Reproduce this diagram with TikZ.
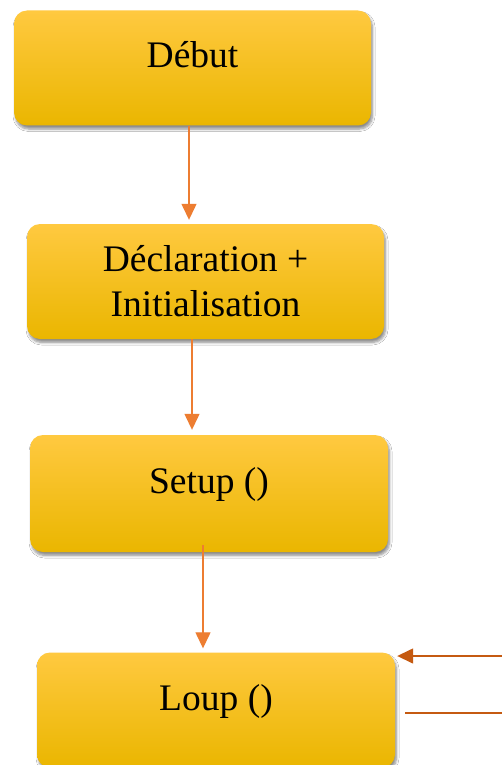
\documentclass[tikz,border=0pt]{standalone}
\usepackage{fontspec}
\setmainfont{Liberation Serif}
\usetikzlibrary{arrows.meta,shadows.blur}

\definecolor{boxtop}{RGB}{255,201,64}
\definecolor{boxmid}{RGB}{255,194,0}
\definecolor{boxbot}{RGB}{234,182,0}
\definecolor{flowline}{RGB}{237,125,49}
\definecolor{loopline}{RGB}{197,90,17}

\tikzset{
  stepbox/.style={rectangle, rounded corners=13pt,
    top color=boxtop, middle color=boxmid, bottom color=boxbot,
    minimum width=357pt, minimum height=115pt, inner sep=0pt,
    align=center, font=\fontsize{37.5}{45}\selectfont,
    blur shadow={shadow xshift=1.5pt, shadow yshift=-3.5pt,
      shadow blur radius=2.5pt, shadow blur steps=6, shadow opacity=45}},
  oneline/.style={text height=18pt, text depth=18pt},
  flow/.style={draw=flowline, line width=1.3pt,
    -{Triangle[width=15pt,length=16pt]}},
  loop/.style={draw=loopline, line width=1.5pt},
}

\begin{document}
\begin{tikzpicture}[x=1pt,y=-1pt]
  % page area
  \fill[white] (0,0) rectangle (502,765);
  \useasboundingbox (0,0) rectangle (502,765);

  % program steps
  \node[stepbox, oneline] (debut) at (192.5,68) {Début};
  \node[stepbox] (decl) at (205.5,281.5) {Déclaration +\\Initialisation};
  \node[stepbox, oneline, minimum width=358pt, minimum height=117pt] (setup) at (209,493.5) {Setup ()};
  \node[stepbox, oneline, minimum width=358pt] (loup) at (216,710) {Loup ()};

  % sequence arrows
  \draw[flow, shorten >=4pt] ([xshift=-3.5pt]debut.south) -- ([xshift=-3.5pt]debut.south |- decl.north);
  \draw[flow, shorten >=5pt] ([xshift=-13.5pt]decl.south) -- ([xshift=-13.5pt]decl.south |- setup.north);
  \draw[flow, shorten >=4pt] ([xshift=-6pt,yshift=7pt]setup.south) -- ([xshift=-6pt]setup.south |- loup.north);

  % loop return and exit
  \coordinate (loopin) at (502,656);
  \coordinate (loopout) at (502,713);
  \draw[loop, -{Triangle[width=15pt,length=16pt]}, shorten >=2pt] (loopin) -- (loup.north east |- loopin);
  \draw[loop] ([xshift=10pt]loup.east |- loopout) -- (loopout);
\end{tikzpicture}
\end{document}
